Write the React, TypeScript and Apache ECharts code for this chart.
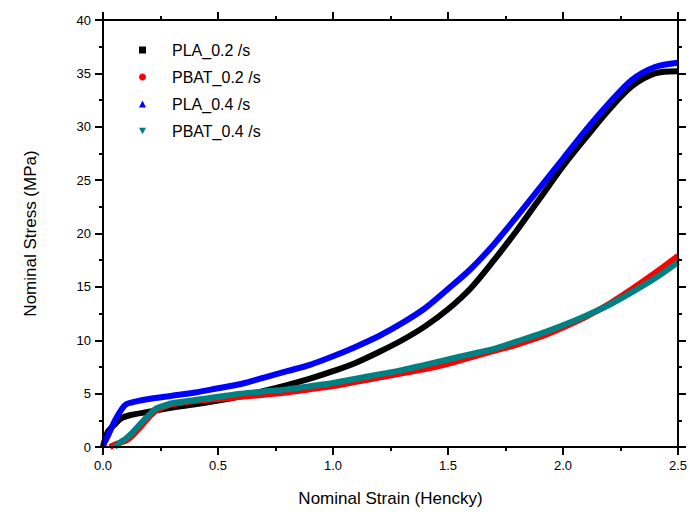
import React, { useEffect, useRef } from "react";
import * as echarts from "echarts";

const seriesNames = ["PLA_0.2 /s", "PBAT_0.2 /s", "PLA_0.4 /s", "PBAT_0.4 /s"];
const seriesColors = ["#000000", "#ff0000", "#0000ff", "#008080"];

const xTicks = ["0.0", "0.5", "1.0", "1.5", "2.0", "2.5"];
const yTicks = ["0", "5", "10", "15", "20", "25", "30", "35", "40"];

const pla02Strain = [0, 0.02, 0.05, 0.08, 0.12, 0.2, 0.3, 0.4, 0.5, 0.6, 0.7, 0.8, 0.9, 1.0, 1.1, 1.2, 1.3, 1.4, 1.5, 1.6, 1.7, 1.8, 1.9, 2.0, 2.1, 2.2, 2.3, 2.4, 2.5];
const pla02Stress = [0, 1.4, 2.1, 2.7, 3.0, 3.3, 3.7, 4.0, 4.35, 4.75, 5.25, 5.8, 6.4, 7.1, 7.9, 8.9, 10.0, 11.3, 12.9, 14.9, 17.5, 20.3, 23.3, 26.3, 29.0, 31.6, 33.8, 35.0, 35.2];

const pbat02Strain = [0.03, 0.06, 0.1, 0.13, 0.16, 0.2, 0.23, 0.27, 0.3, 0.4, 0.5, 0.6, 0.7, 0.8, 0.9, 1.0, 1.1, 1.2, 1.3, 1.4, 1.5, 1.6, 1.7, 1.8, 1.9, 2.0, 2.1, 2.2, 2.3, 2.4, 2.5];
const pbat02Stress = [0, 0.3, 0.6, 1.1, 1.8, 2.8, 3.4, 3.8, 4.0, 4.3, 4.5, 4.7, 4.9, 5.1, 5.4, 5.7, 6.1, 6.5, 6.9, 7.3, 7.8, 8.4, 9.0, 9.6, 10.3, 11.2, 12.2, 13.4, 14.8, 16.3, 17.9];

const pla04Strain = [0, 0.02, 0.05, 0.08, 0.1, 0.15, 0.2, 0.3, 0.4, 0.5, 0.6, 0.7, 0.8, 0.9, 1.0, 1.1, 1.2, 1.3, 1.4, 1.5, 1.6, 1.7, 1.8, 1.9, 2.0, 2.1, 2.2, 2.3, 2.4, 2.5];
const pla04Stress = [0.2, 1.0, 2.4, 3.5, 4.0, 4.3, 4.5, 4.8, 5.1, 5.5, 5.9, 6.5, 7.1, 7.7, 8.5, 9.4, 10.4, 11.6, 13.0, 14.8, 16.7, 19.0, 21.6, 24.3, 27.0, 29.7, 32.2, 34.4, 35.6, 36.0];

const pbat04Strain = [0.05, 0.08, 0.1, 0.13, 0.16, 0.2, 0.23, 0.27, 0.3, 0.4, 0.5, 0.6, 0.7, 0.8, 0.9, 1.0, 1.1, 1.2, 1.3, 1.4, 1.5, 1.6, 1.7, 1.8, 1.9, 2.0, 2.1, 2.2, 2.3, 2.4, 2.5];
const pbat04Stress = [0, 0.5, 0.8, 1.4, 2.1, 3.0, 3.6, 3.9, 4.1, 4.4, 4.7, 5.0, 5.2, 5.4, 5.7, 6.0, 6.4, 6.8, 7.2, 7.7, 8.2, 8.7, 9.2, 9.9, 10.6, 11.4, 12.3, 13.3, 14.5, 15.8, 17.3];

const strains = [pla02Strain, pbat02Strain, pla04Strain, pbat04Strain];
const stresses = [pla02Stress, pbat02Stress, pla04Stress, pbat04Stress];
const legendIcons = ["rect", "circle", "triangle", "path://M0,0 L10,0 L5,9 Z"];

const FONT = "Liberation Sans, Arial, sans-serif";

function makeAxisLine() {
  return { show: true, onZero: false, lineStyle: { color: "#000000", width: 2 } };
}
function makeTick() {
  return { show: true, length: 8, lineStyle: { color: "#000000", width: 2 } };
}
function makeMinor() {
  return { show: true, splitNumber: 2, length: 4, lineStyle: { color: "#000000", width: 2 } };
}

export default function App() {
  const ref = useRef<HTMLDivElement>(null);
  useEffect(() => {
    if (!ref.current) return;
    const chart = echarts.init(ref.current, undefined, { renderer: "svg" });
    const option: any = {
      animation: false,
      grid: { left: 103, right: 12, top: 20, bottom: 70 },
      graphic: [
        {
          type: "rect",
          z: 100,
          silent: true,
          shape: { x: 103, y: 20, width: 575, height: 427 },
          style: { fill: "none", stroke: "#000000", lineWidth: 2 },
        },
      ],
      legend: {
        orient: "vertical",
        left: 134,
        top: 37,
        itemWidth: 7,
        itemHeight: 7,
        itemGap: 11,
        textStyle: { fontFamily: FONT, fontSize: 16, color: "#000", padding: [0, 0, 0, 21] },
        data: seriesNames.map((n, i) => ({ name: n, icon: legendIcons[i], itemStyle: { color: seriesColors[i] } })),
      },
      xAxis: [
        {
          type: "value",
          min: 0,
          max: 2.5,
          interval: 0.5,
          name: "Nominal Strain (Hencky)",
          nameLocation: "middle",
          nameGap: 43,
          nameTextStyle: { fontFamily: FONT, fontSize: 17, color: "#000" },
          axisLine: makeAxisLine(),
          axisTick: makeTick(),
          minorTick: makeMinor(),
          splitLine: { show: false },
          minorSplitLine: { show: false },
          axisLabel: {
            fontFamily: FONT,
            fontSize: 13,
            color: "#000",
            margin: 12,
            formatter: (v: number) => xTicks[Math.round(v / 0.5)] ?? "",
          },
        },
        {
          type: "value",
          position: "top",
          min: 0,
          max: 2.5,
          interval: 0.5,
          axisLine: makeAxisLine(),
          axisTick: makeTick(),
          minorTick: makeMinor(),
          splitLine: { show: false },
          axisLabel: { show: false },
        },
      ],
      yAxis: [
        {
          type: "value",
          min: 0,
          max: 40,
          interval: 5,
          name: "Nominal Stress (MPa)",
          nameLocation: "middle",
          nameGap: 64,
          nameTextStyle: { fontFamily: FONT, fontSize: 17, color: "#000" },
          axisLine: makeAxisLine(),
          axisTick: makeTick(),
          minorTick: makeMinor(),
          splitLine: { show: false },
          axisLabel: {
            fontFamily: FONT,
            fontSize: 13,
            color: "#000",
            margin: 12,
            formatter: (v: number) => yTicks[Math.round(v / 5)] ?? "",
          },
        },
        {
          type: "value",
          position: "right",
          min: 0,
          max: 40,
          interval: 5,
          axisLine: makeAxisLine(),
          axisTick: makeTick(),
          minorTick: makeMinor(),
          splitLine: { show: false },
          axisLabel: { show: false },
        },
      ],
      series: seriesNames.map((name, i) => ({
        name,
        type: "line",
        xAxisIndex: 0,
        yAxisIndex: 0,
        smooth: 0.3,
        showSymbol: false,
        symbol: "none",
        lineStyle: { color: seriesColors[i], width: 6 },
        itemStyle: { color: seriesColors[i] },
        data: strains[i].map((x, k) => [x, stresses[i][k]]),
      })),
    };
    chart.setOption(option);
    return () => chart.dispose();
  }, []);
  return <div ref={ref} style={{ width: 690, height: 517, position: "absolute", left: 0, top: 0 }} />;
}
